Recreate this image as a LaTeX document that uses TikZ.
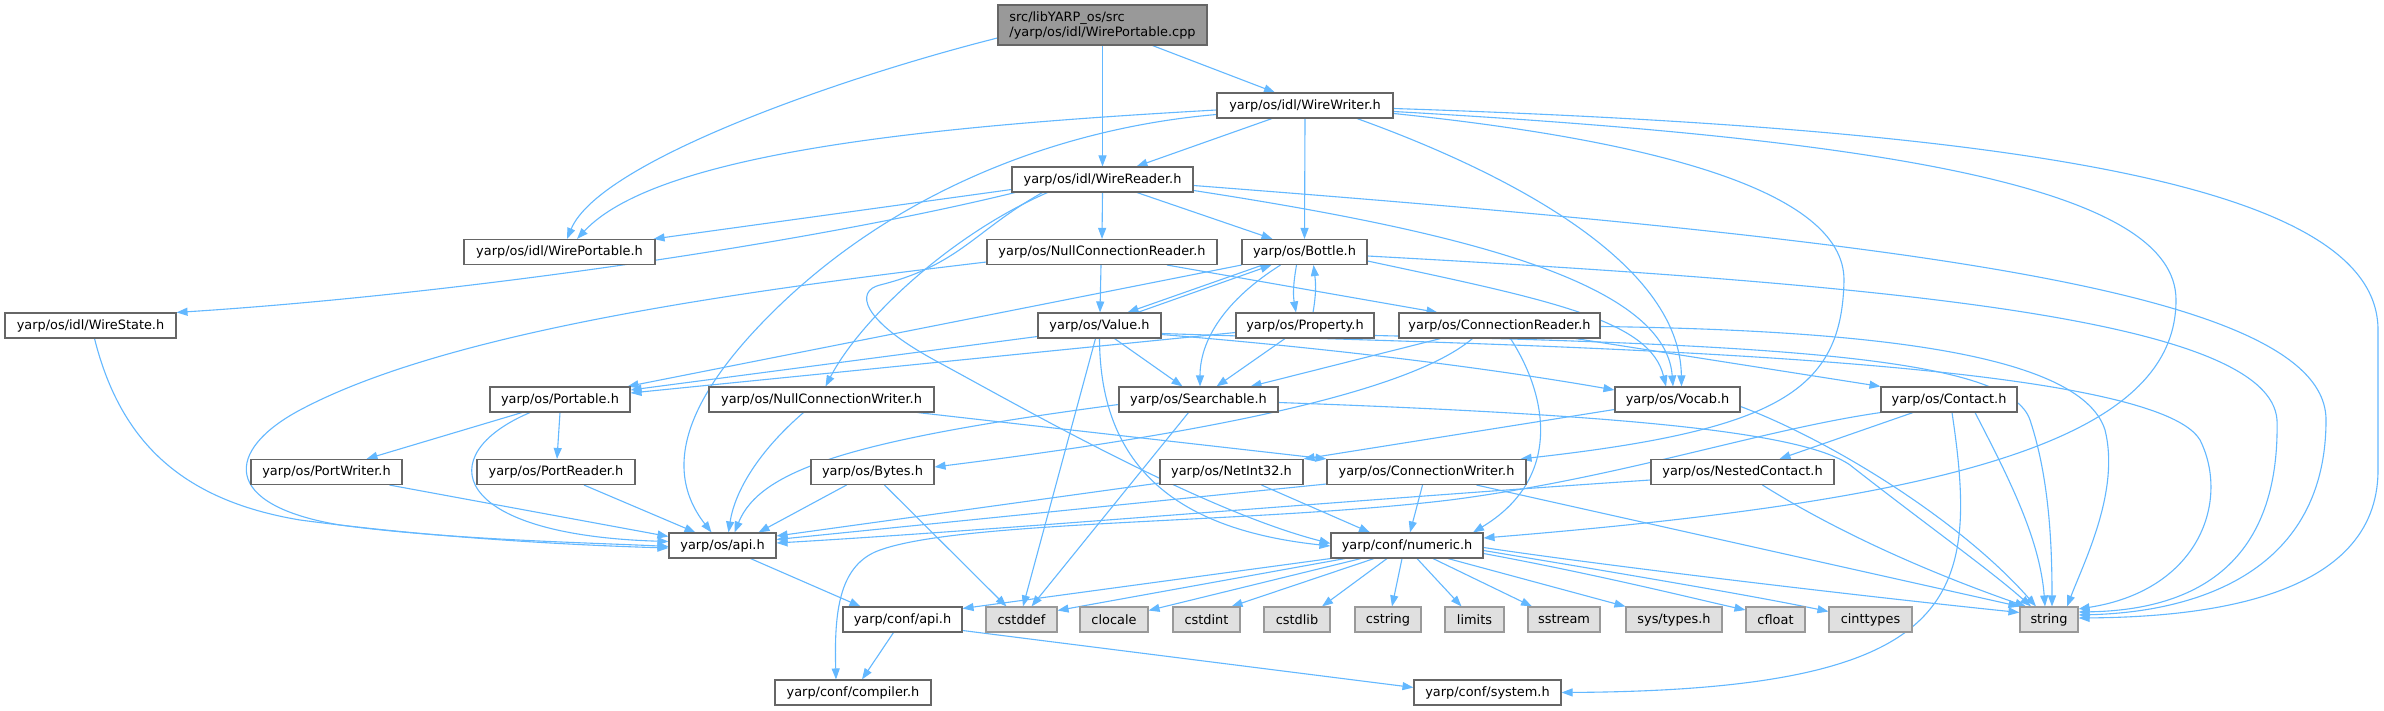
\documentclass[tikz,border=0pt]{standalone}
\usepackage{fontspec}
\setmainfont{DejaVu Sans}
\usetikzlibrary{arrows.meta}
\definecolor{edgec}{HTML}{63B8FF}
\definecolor{ndb}{HTML}{666666}
\definecolor{extb}{HTML}{999999}
\definecolor{extf}{HTML}{E0E0E0}
\definecolor{rootf}{HTML}{999999}
\pgfdeclarelayer{bg}
\pgfsetlayers{bg,main}
\tikzset{
  nd/.style={draw=ndb, fill=white, line width=1.1pt, minimum height=25pt, inner sep=0pt, text=black,
    font=\fontsize{12.9pt}{15pt}\selectfont},
  extnd/.style={nd, draw=extb, fill=extf},
  rootnd/.style={nd, fill=rootf, draw=ndb},
  edg/.style={draw=edgec, line width=1.1pt, -{Triangle[length=11pt,width=8pt]}}
}
\begin{document}
\begin{tikzpicture}[x=1pt,y=-1pt]
\useasboundingbox (0,0) rectangle (2384,711);
\begin{pgfonlayer}{bg}
\fill[white] (0,0) rectangle (2384,711);
\end{pgfonlayer}
% nodes
\node[rootnd, minimum width=209pt, minimum height=40pt, align=left] (cpp) at (1102.5,25) {src/libYARP\_os/src\\/yarp/os/idl/WirePortable.cpp};
\node[nd, minimum width=176pt] (ww) at (1305,105.5) {yarp/os/idl/WireWriter.h};
\node[nd, minimum width=181pt] (wr) at (1102.5,179.5) {yarp/os/idl/WireReader.h};
\node[nd, minimum width=191pt] (wp) at (559.5,252) {yarp/os/idl/WirePortable.h};
\node[nd, minimum width=230pt] (ncr) at (1102,252) {yarp/os/NullConnectionReader.h};
\node[nd, minimum width=125pt] (bot) at (1304.5,252) {yarp/os/Bottle.h};
\node[nd, minimum width=171pt] (ws) at (90.5,325.5) {yarp/os/idl/WireState.h};
\node[nd, minimum width=123pt] (val) at (1099.5,325.5) {yarp/os/Value.h};
\node[nd, minimum width=138pt] (prop) at (1305,325.5) {yarp/os/Property.h};
\node[nd, minimum width=201pt] (cr) at (1499.5,325.5) {yarp/os/ConnectionReader.h};
\node[nd, minimum width=140pt] (port) at (560,399.5) {yarp/os/Portable.h};
\node[nd, minimum width=225pt] (ncw) at (821.5,399.5) {yarp/os/NullConnectionWriter.h};
\node[nd, minimum width=159pt] (srch) at (1198.5,399.5) {yarp/os/Searchable.h};
\node[nd, minimum width=125pt] (voc) at (1677.5,399.5) {yarp/os/Vocab.h};
\node[nd, minimum width=136pt] (con) at (1949,399.5) {yarp/os/Contact.h};
\node[nd, minimum width=151pt] (pw) at (326.5,472) {yarp/os/PortWriter.h};
\node[nd, minimum width=158pt] (prd) at (556,472) {yarp/os/PortReader.h};
\node[nd, minimum width=123pt] (byt) at (872.5,472) {yarp/os/Bytes.h};
\node[nd, minimum width=143pt] (ni) at (1231.5,472) {yarp/os/NetInt32.h};
\node[nd, minimum width=199pt] (cw) at (1426.5,472) {yarp/os/ConnectionWriter.h};
\node[nd, minimum width=183pt] (nc) at (1742.5,472) {yarp/os/NestedContact.h};
\node[nd, minimum width=107pt] (oapi) at (722.5,545.5) {yarp/os/api.h};
\node[nd, minimum width=152pt] (num) at (1407,545.5) {yarp/conf/numeric.h};
\node[nd, minimum width=119pt] (capi) at (902.5,619.5) {yarp/conf/api.h};
\node[extnd, minimum width=71pt] (cstddef) at (1021.5,619.5) {cstddef};
\node[extnd, minimum width=68pt] (clocale) at (1114,619.5) {clocale};
\node[extnd, minimum width=67pt] (cstdint) at (1206.5,619.5) {cstdint};
\node[extnd, minimum width=66pt] (cstdlib) at (1297,619.5) {cstdlib};
\node[extnd, minimum width=66pt] (cstring) at (1388,619.5) {cstring};
\node[extnd, minimum width=59pt] (limits) at (1474.5,619.5) {limits};
\node[extnd, minimum width=72pt] (sstream) at (1564,619.5) {sstream};
\node[extnd, minimum width=96pt] (systypes) at (1674,619.5) {sys/types.h};
\node[extnd, minimum width=59pt] (cfloat) at (1775.5,619.5) {cfloat};
\node[extnd, minimum width=83pt] (cinttypes) at (1870.5,619.5) {cinttypes};
\node[extnd, minimum width=58pt] (str) at (2049,619.5) {string};
\node[nd, minimum width=156pt] (comp) at (853,692.5) {yarp/conf/compiler.h};
\node[nd, minimum width=147pt] (sys) at (1487.5,692.5) {yarp/conf/system.h};
% edges
\begin{pgfonlayer}{bg}
% cpp
\draw[edg] ([yshift=-13pt]cpp.west) .. controls (850,75) and (600,160) .. ([xshift=7.5pt]wp.north);
\draw[edg] (cpp.south) -- (wr.north);
\draw[edg] ([xshift=50pt]cpp.south) -- ([xshift=-30pt]ww.north);
% ww
\draw[edg] ([yshift=-4.5pt]ww.west) .. controls (950,125) and (660,150) .. ([xshift=17.5pt]wp.north);
\draw[edg] ([yshift=-9pt]ww.west) .. controls (1060,128) and (900,190) .. (780,305) .. controls (700,382) and (655,460) .. ([xshift=-11pt]oapi.north);
\draw[edg] ([xshift=-33pt]ww.south) -- ([xshift=34pt]wr.north);
\draw[edg] (ww.south) -- (bot.north);
\draw[edg] ([xshift=52pt]ww.south) .. controls (1500,170) and (1680,260) .. ([xshift=4pt]voc.north);
\draw[edg] ([yshift=-8pt]ww.east) .. controls (1650,140) and (1844,190) .. (1844,280) .. controls (1842,390) and (1780,430) .. ([xshift=-6pt]cw.north east);
\draw[edg] ([yshift=-6pt]ww.east) .. controls (1900,140) and (2176,190) .. (2176,300) .. controls (2176,440) and (1950,500) .. ([yshift=7.5pt]num.east);
\draw[edg] ([yshift=-3pt]ww.east) .. controls (2050,130) and (2378,190) .. (2378,330) -- (2378,470) .. controls (2378,600) and (2200,617) .. ([yshift=1.5pt]str.east);
% wr
\draw[edg] ([yshift=-10pt]wr.west) -- ([xshift=-2pt]wp.north east);
\draw[edg] ([xshift=-87.5pt]wr.south) .. controls (800,245) and (450,295) .. (ws.north east);
\draw[edg] (wr.south) -- (ncr.north);
\draw[edg] ([xshift=34.5pt]wr.south) -- ([xshift=-32pt]bot.north);
\draw[edg] ([yshift=-11pt]wr.east) .. controls (1450,230) and (1665,280) .. ([xshift=-4.5pt]voc.north);
\draw[edg] ([yshift=-6pt]wr.east) .. controls (1900,240) and (2326,290) .. (2326,420) .. controls (2326,570) and (2200,612) .. ([yshift=4.5pt]str.east);
\draw[edg] ([xshift=-55pt]wr.south) .. controls (950,235) and (860,320) .. ([xshift=4pt]ncw.north);
\draw[edg] ([xshift=-60pt]wr.south) .. controls (975,230) and (960,265) .. (880,285) .. controls (855,291) and (860,320) .. (938,362) .. controls (1016,404) and (1200,510) .. ([yshift=2pt]num.west);
% ncr
\draw[edg] ([yshift=-10pt]ncr.west) .. controls (750,290) and (450,330) .. (300,410) .. controls (225,450) and (220,505) .. (340,525) .. controls (450,540) and (600,543) .. ([yshift=-1pt]oapi.west);
\draw[edg] ([xshift=-1pt]ncr.south) -- ([xshift=0.5pt]val.north);
\draw[edg] ([xshift=65pt]ncr.south) -- ([xshift=-62pt]cr.north);
% bot
\draw[edg] (bot.south west) -- ([xshift=-3pt]port.north east);
\draw[edg] ([xshift=-42pt]bot.south) -- ([xshift=28pt]val.north);
\draw[edg] ([xshift=38pt]val.north) -- ([xshift=-33pt]bot.south);
\draw[edg] ([xshift=-24pt]bot.south) .. controls (1225,300) and (1200,340) .. ([xshift=1.5pt]srch.north);
\draw[edg] ([xshift=-8pt]bot.south) .. controls (1293,285) and (1293,295) .. ([xshift=-9pt]prop.north);
\draw[edg] ([xshift=8pt]prop.north) .. controls (1316,295) and (1316,285) .. ([xshift=9pt]bot.south);
\draw[edg] ([yshift=-9pt]bot.east) .. controls (1550,300) and (1650,320) .. ([xshift=-11.5pt]voc.north);
\draw[edg] ([yshift=-4pt]bot.east) .. controls (1900,285) and (2270,320) .. (2277,420) .. controls (2280,560) and (2200,610) .. ([yshift=7.5pt]str.east);
% val
\draw[edg] ([yshift=-11pt]val.west) -- ([yshift=9.5pt]port.east);
\draw[edg] ([xshift=15pt]val.south) -- ([xshift=-16pt]srch.north);
\draw[edg] ([yshift=-9pt]val.east) .. controls (1350,350) and (1500,370) .. ([yshift=9.5pt]voc.west);
\draw[edg] ([yshift=-8pt]val.east) .. controls (1500,345) and (2150,355) .. (2200,440) .. controls (2230,500) and (2200,590) .. ([yshift=10.5pt]str.east);
\draw[edg] ([xshift=-4pt]val.south) -- ([xshift=1.5pt]cstddef.north);
\draw[edg] (val.south) .. controls (1100,470) and (1180,530) .. ([yshift=-0.5pt]num.west);
% prop
\draw[edg] ([yshift=-7pt]prop.west) -- ([yshift=6.5pt]port.east);
\draw[edg] ([xshift=-20pt]prop.south) -- ([xshift=18pt]srch.north);
\draw[edg] ([yshift=-10pt]prop.east) .. controls (1800,345) and (2010,360) .. (2030,420) .. controls (2050,480) and (2052,550) .. ([xshift=3pt]str.north);
% cr
\draw[edg] ([xshift=-59pt]cr.south) -- ([xshift=52pt]srch.north);
\draw[edg] ([xshift=-27pt]cr.south) .. controls (1400,400) and (1150,440) .. ([yshift=5pt]byt.east);
\draw[edg] ([xshift=11pt]cr.south) .. controls (1550,400) and (1560,480) .. ([xshift=66pt]num.north);
\draw[edg] ([xshift=76pt]cr.south) -- (con.north west);
\draw[edg] ([yshift=-1pt]cr.east) .. controls (1850,330) and (2080,350) .. (2105,430) .. controls (2120,490) and (2085,560) .. ([xshift=18pt]str.north);
% srch
\draw[edg] ([yshift=-5pt]srch.west) .. controls (850,440) and (760,470) .. ([xshift=12pt]oapi.north);
\draw[edg] ([xshift=-10pt]srch.south) -- ([xshift=10pt]cstddef.north);
\draw[edg] ([yshift=-3pt]srch.east) .. controls (1600,414) and (1800,430) .. (1850,465) .. controls (1920,520) and (1990,570) .. ([xshift=-18pt]str.north);
% voc
\draw[edg] ([yshift=-10pt]voc.west) -- (ni.north east);
\draw[edg] ([yshift=-7pt]voc.east) .. controls (1830,440) and (1960,520) .. ([xshift=-13pt]str.north);
% con
\draw[edg] ([xshift=-36pt]con.south) -- ([xshift=37pt]nc.north);
\draw[edg] (con.south west) .. controls (1760,430) and (1620,478) .. (1450,500) .. controls (1250,524) and (950,520) .. (875,552) .. controls (840,568) and (834,610) .. ([xshift=-17pt]comp.north);
\draw[edg] ([xshift=3pt]con.south) .. controls (1980,600) and (1960,690) .. (sys.east);
\draw[edg] ([xshift=26pt]con.south) .. controls (2010,480) and (2040,540) .. ([xshift=-4pt]str.north);
% nc
\draw[edg] ([yshift=-8pt]nc.west) .. controls (1350,500) and (1000,530) .. ([yshift=2.5pt]oapi.east);
\draw[edg] ([xshift=20pt]nc.south) .. controls (1850,540) and (1950,580) .. ([xshift=-23pt]str.north);
% byt, ni, cw
\draw[edg] ([xshift=-26pt]byt.south) -- ([xshift=36pt]oapi.north);
\draw[edg] ([xshift=12pt]byt.south) -- ([xshift=-15pt]cstddef.north);
\draw[edg] ([yshift=-11pt]ni.west) -- ([yshift=9.5pt]oapi.east);
\draw[edg] ([xshift=30pt]ni.south) -- ([xshift=-37pt]num.north);
\draw[edg] ([yshift=-12pt]cw.west) -- ([yshift=6pt]oapi.east);
\draw[edg] ([xshift=-4pt]cw.south) -- ([xshift=3pt]num.north);
\draw[edg] ([xshift=50pt]cw.south) -- (str.north west);
% port, pw, prd, ws, ncw
\draw[edg] ([xshift=-38pt]port.south) -- ([xshift=40pt]pw.north);
\draw[edg] (port.south) -- ([xshift=1pt]prd.north);
\draw[edg] ([xshift=-30pt]port.south) .. controls (430,455) and (450,535) .. ([yshift=4pt]oapi.west);
\draw[edg] ([xshift=63pt]pw.south) -- ([yshift=9pt]oapi.west);
\draw[edg] ([xshift=28pt]prd.south) -- ([xshift=-27pt]oapi.north);
\draw[edg] ([xshift=4pt]ws.south) .. controls (120,440) and (180,500) .. (300,520) .. controls (450,540) and (600,546) .. ([yshift=-2.5pt]oapi.west);
\draw[edg] ([xshift=-18pt]ncw.south) .. controls (760,450) and (735,490) .. ([xshift=6pt]oapi.north);
\draw[edg] ([xshift=96pt]ncw.south) -- (cw.north west);
% oapi, capi
\draw[edg] ([xshift=28pt]oapi.south) -- ([xshift=-42pt]capi.north);
\draw[edg] ([xshift=-9pt]capi.south) -- ([xshift=9pt]comp.north);
\draw[edg] ([yshift=-11pt]capi.east) -- ([yshift=5pt]sys.west);
% num
\draw[edg] (num.south west) -- ([yshift=11pt]capi.east);
\draw[edg] ([xshift=-62pt]num.south) -- ([yshift=9pt]cstddef.east);
\draw[edg] ([xshift=-46pt]num.south) -- ([yshift=9pt]clocale.east);
\draw[edg] ([xshift=-33pt]num.south) -- ([xshift=25pt]cstdint.north);
\draw[edg] ([xshift=-20pt]num.south) -- ([xshift=25pt]cstdlib.north);
\draw[edg] ([xshift=-5pt]num.south) -- ([xshift=4pt]cstring.north);
\draw[edg] ([xshift=10pt]num.south) -- ([xshift=-13pt]limits.north);
\draw[edg] ([xshift=26pt]num.south) -- ([xshift=-32pt]sstream.north);
\draw[edg] ([xshift=41pt]num.south) -- (systypes.north west);
\draw[edg] ([yshift=-8pt]num.east) .. controls (1600,575) and (1700,600) .. ([yshift=9.5pt]cfloat.west);
\draw[edg] ([yshift=-5pt]num.east) .. controls (1600,570) and (1750,595) .. ([yshift=8pt]cinttypes.west);
\draw[edg] ([yshift=-2pt]num.east) .. controls (1600,565) and (1850,595) .. ([yshift=7pt]str.west);
\end{pgfonlayer}
\end{tikzpicture}
\end{document}
